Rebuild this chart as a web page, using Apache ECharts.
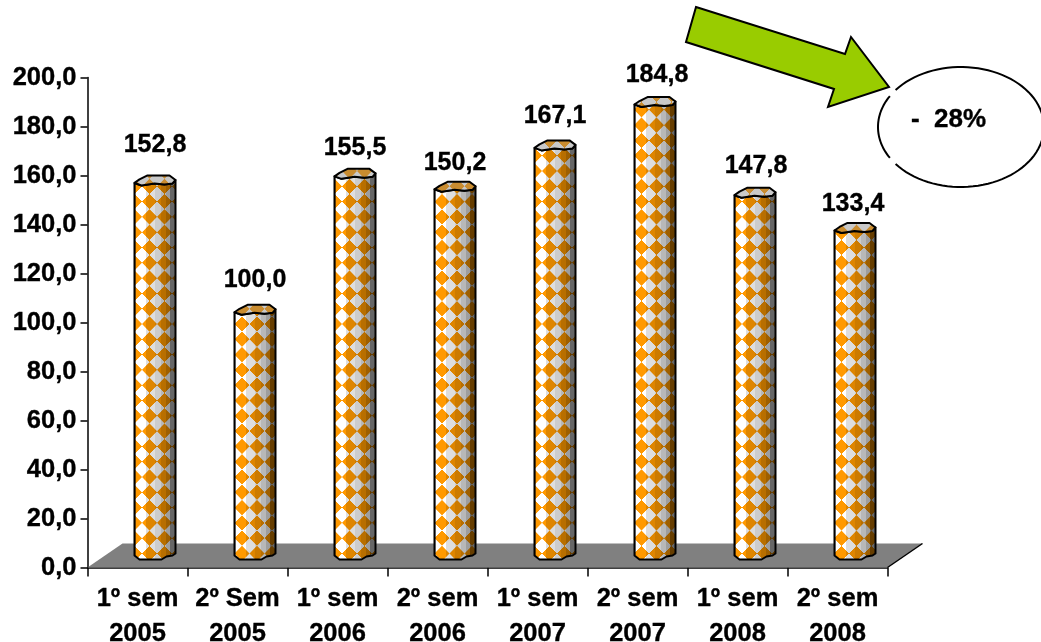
<!DOCTYPE html>
<html><head><meta charset="utf-8">
<style>html,body{margin:0;padding:0;background:#fff}#c{width:1041px;height:642px}</style>
<script src="https://cdn.jsdelivr.net/npm/echarts@6/dist/echarts.min.js"></script>
</head><body><div id="c"></div>
<script>
const categories = ['1º sem\n2005','2º Sem\n2005','1º sem\n2006','2º sem\n2006','1º sem\n2007','2º sem\n2007','1º sem\n2008','2º sem\n2008'];
const values = [152.8,100.0,155.5,150.2,167.1,184.8,147.8,133.4];
const valueLabels = ['152,8','100,0','155,5','150,2','167,1','184,8','147,8','133,4'];
const yMin = 0, yMax = 200, yStep = 20;

// appearance constants
const FONT = '"Liberation Sans", Arial, sans-serif';
const labelLift = [35.5,29.5,25.5,23.5,29.5,26.5,26.5,23.5];
const labelShift = [0,0,0,0,0,2,1,-2];
const patternPhase = [0,7.5,0,7.5,0,7,0,7];

const T = 60;
const tile = document.createElement('canvas'); tile.width = T; tile.height = T;
(function(){const g=tile.getContext('2d');g.fillStyle='#fff';g.fillRect(0,0,T,T);g.fillStyle='#ff9900';
 g.beginPath();g.moveTo(T/2,0);g.lineTo(T,T/2);g.lineTo(T/2,T);g.lineTo(0,T/2);g.closePath();g.fill();})();
const SX=0.25, SY=0.255;

const bands = [[0,.25],[.05,0],[.28,.13],[.49,.2],[.65,.28],[.75,.38],[.86,.6]];
const stops = [];
bands.forEach((b,k)=>{const end=k+1<bands.length?bands[k+1][0]:1;const c='rgba(0,0,0,'+b[1]+')';
  stops.push({offset:b[0],color:c},{offset:end,color:c});});
const shade = {type:'linear',x:0,y:0,x2:1,y2:0,colorStops:stops};

const capPts = [[0,2.5],[5,-1],[13,-5],[35,-5],[41,-.5],[38,3],[30,4],[20,3],[7,5]];
const botPts = [[41,0],[38,2],[32,3],[27,6],[5,6],[0,2]];
const W = 41, DEPTH = 14, SHIFT = 17, TOP_ADJ = 1.3;
const BOLD = {textBorderColor:'#000',textBorderWidth:0.35};

function renderBar(params, api){
  const i = api.value(0), p = api.coord([i, api.value(1)]), b = api.coord([i, 0]);
  const left = Math.round(p[0]) + SHIFT - W/2, base = b[1]-DEPTH, top = p[1]-DEPTH-base+TOP_ADJ;
  const pat = {image:tile,repeat:'repeat',x:-7.5+patternPhase[i],y:-7.65,scaleX:SX,scaleY:SY};
  const body = [[0,top+2.5],[7,top+5],[20,top+3],[30,top+4],[38,top+3],[41,top-.5]].concat(botPts);
  const cap = capPts.map(q=>[q[0],top+q[1]]);
  return {type:'group',x:left,y:base,children:[
    {type:'polygon',shape:{points:body},style:{fill:pat}},
    {type:'polygon',shape:{points:body},style:{fill:shade,stroke:'#000',lineWidth:2,lineJoin:'round'}},
    {type:'polygon',shape:{points:cap},style:{fill:pat}},
    {type:'polygon',shape:{points:cap},style:{fill:'rgba(120,120,120,.4)',stroke:'#000',lineWidth:2,lineJoin:'round'}},
    {type:'text',x:W/2+labelShift[i],y:top-labelLift[i],style:Object.assign({text:valueLabels[i],fill:'#000',font:'bold 25px '+FONT,align:'center',verticalAlign:'middle',stroke:'#000',lineWidth:0.35})}
  ]};
}
function renderFloor(params, api){
  const c = params.coordSys, x0=c.x, x1=c.x+c.width, y=c.y+c.height;
  return {type:'group',children:[
    {type:'polygon',shape:{points:[[x0,y],[x0+35,y-24],[x1+35,y-24],[x1,y]]},style:{fill:'#808080'}},
    {type:'line',shape:{x1:x1,y1:y,x2:x1+35,y2:y-24},style:{stroke:'#000',lineWidth:1.5}}
  ]};
}
function arc(fromDeg,toDeg){
  const pts=[];const n=80;
  for(let k=0;k<=n;k++){const a=(fromDeg+(toDeg-fromDeg)*k/n)*Math.PI/180;pts.push([961+83*Math.cos(a),127+60*Math.sin(a)]);}
  return pts;
}
const chart = echarts.init(document.getElementById('c'),null,{renderer:'canvas'});
const axisFont = Object.assign({fontFamily:FONT,fontWeight:'bold',color:'#000'},BOLD);
chart.setOption({
  animation:false, backgroundColor:'#fff',
  grid:{left:87.5,top:77.5,width:800,height:490,containLabel:false,outerBoundsMode:'none'},
  xAxis:{type:'category',data:categories,boundaryGap:true,
    axisLine:{lineStyle:{color:'#000',width:1.5}},axisTick:{show:true,length:9,lineStyle:{color:'#000',width:1.5},alignWithLabel:false},
    axisLabel:Object.assign({fontSize:25.5,lineHeight:35,margin:14,interval:0},axisFont),splitLine:{show:false}},
  yAxis:{type:'value',min:yMin,max:yMax,interval:yStep,
    axisLine:{show:true,lineStyle:{color:'#000',width:1.5}},axisTick:{show:true,length:7,lineStyle:{color:'#000',width:1.5}},
    axisLabel:Object.assign({fontSize:25.5,margin:11,padding:[2,0,0,0],formatter:v=>v.toFixed(1).replace('.',',')},axisFont),splitLine:{show:false}},
  series:[
    {type:'custom',z:1,silent:true,renderItem:renderFloor,data:[0],encode:{x:0}},
    {type:'custom',z:3,renderItem:renderBar,data:values.map((v,i)=>[i,v]),encode:{x:0,y:1},clip:false}
  ],
  graphic:[
    {type:'polygon',z:10,shape:{points:[[696,7],[845,54],[851,37],[889,87],[828,107],[834,89],[686,42]]},style:{fill:'#99cc00',stroke:'#000',lineWidth:2}},
    {type:'polyline',z:10,shape:{points:arc(-142,142)},style:{fill:null,stroke:'#000',lineWidth:2}},
    {type:'polyline',z:10,shape:{points:arc(149,211)},style:{fill:null,stroke:'#000',lineWidth:2}},
    {type:'text',z:10,x:911,y:120,style:{text:'-  28%',fill:'#000',font:'bold 26px '+FONT,verticalAlign:'middle',stroke:'#000',lineWidth:0.35}}
  ]
});
</script></body></html>
